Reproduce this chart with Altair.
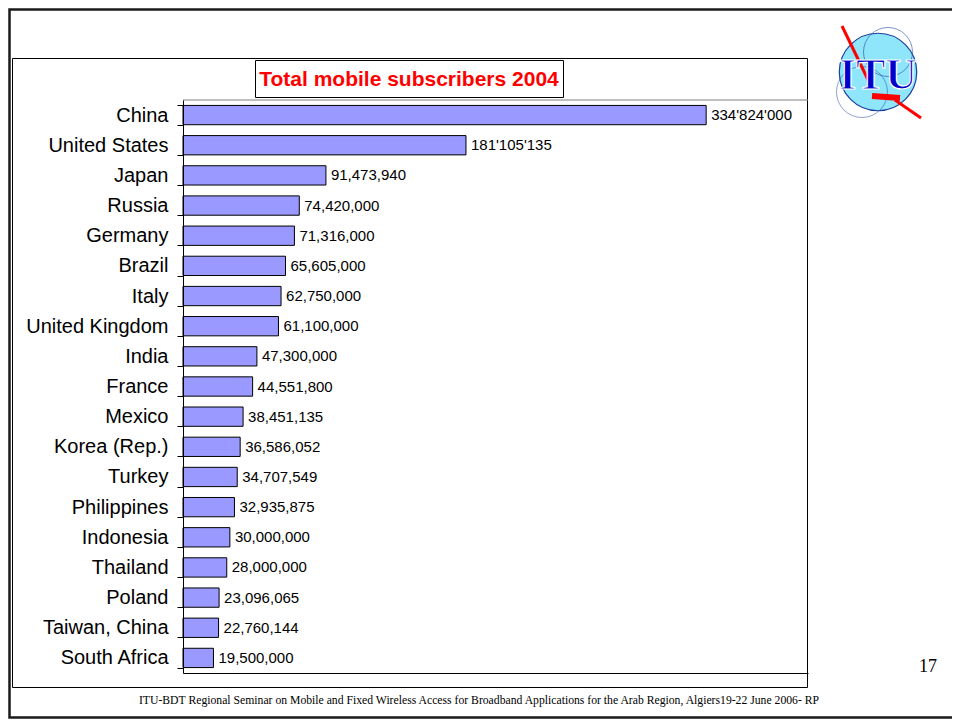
import altair as alt
import pandas as pd

countries = ["China", "United States", "Japan", "Russia", "Germany", "Brazil", "Italy",
             "United Kingdom", "India", "France", "Mexico", "Korea (Rep.)", "Turkey",
             "Philippines", "Indonesia", "Thailand", "Poland", "Taiwan, China", "South Africa"]
subscribers = [334824000, 181105135, 91473940, 74420000, 71316000, 65605000, 62750000,
               61100000, 47300000, 44551800, 38451135, 36586052, 34707549,
               32935875, 30000000, 28000000, 23096065, 22760144, 19500000]
value_labels = ["334'824'000", "181'105'135", "91,473,940", "74,420,000", "71,316,000",
                "65,605,000", "62,750,000", "61,100,000", "47,300,000", "44,551,800",
                "38,451,135", "36,586,052", "34,707,549", "32,935,875", "30,000,000",
                "28,000,000", "23,096,065", "22,760,144", "19,500,000"]
chart_title = "Total mobile subscribers 2004"
page_number = "17"
footer = ("ITU-BDT Regional Seminar on Mobile and Fixed Wireless Access for Broadband "
          "Applications  for the Arab Region, Algiers19-22 June 2006- RP")

df = pd.DataFrame({"country": countries, "subs": subscribers, "label": value_labels})

W, H = 625, 573
OX, OY = 183, 100  # plot origin on page
TOTAL_W, TOTAL_H = 944, 713

def px(x):
    return x - OX

def py(y):
    return y - OY

one = alt.Data(values=[{"k": 1}])

y_enc = alt.Y("country:N", sort=countries, title=None,
              scale=alt.Scale(paddingInner=0.36, paddingOuter=0.18),
              axis=alt.Axis(labelFont="Liberation Sans", labelFontSize=20, labelColor="black",
                            tickBand="extent", tickColor="black", tickSize=6,
                            domainColor="black", labelPadding=9, labelLimit=300, zindex=1))
x_enc = alt.X("subs:Q", title=None, scale=alt.Scale(domain=[0, 400000000], nice=False),
              axis=alt.Axis(labels=False, ticks=False, grid=False, domainColor="black",
                            domainWidth=1, zindex=1))

# decoration layers
slide_border = alt.Chart(one).mark_rect(fillOpacity=0, stroke="#1a1a1a", strokeWidth=2.5).encode(
    x=alt.value(px(9.5)), x2=alt.value(px(975)), y=alt.value(py(9.5)), y2=alt.value(py(717.5)))
chart_box = alt.Chart(one).mark_rect(fillOpacity=0, stroke="black", strokeWidth=1).encode(
    x=alt.value(px(12.5)), x2=alt.value(px(807.5)), y=alt.value(py(58.5)), y2=alt.value(py(687.5)))
top_line = alt.Chart(one).mark_rule(color="#808080", strokeWidth=1).encode(
    x=alt.value(0), x2=alt.value(W), y=alt.value(0))
title_box = alt.Chart(one).mark_rect(fill="white", stroke="black", strokeWidth=1).encode(
    x=alt.value(px(255.5)), x2=alt.value(px(563.5)), y=alt.value(py(60.5)), y2=alt.value(py(97.5)))
title_text = alt.Chart(one).mark_text(font="Liberation Sans", fontSize=21, fontWeight="bold",
                                      color="#ff0000", align="center", baseline="middle").encode(
    x=alt.value(px(409)), y=alt.value(py(80)), text=alt.value(chart_title))

# logo
logo_circle = alt.Chart(one).mark_point(shape="circle", size=6000, filled=True, fill="#8fe6fb",
                                        stroke="#1a3fa0", strokeWidth=1.2, opacity=1).encode(
    x=alt.value(px(878)), y=alt.value(py(72)))
logo_ring1 = alt.Chart(one).mark_point(shape="circle", size=2400, filled=False,
                                       stroke="#1a3fa0", strokeWidth=0.8, opacity=0.7).encode(
    x=alt.value(px(888)), y=alt.value(py(52)))
logo_ring2 = alt.Chart(one).mark_point(shape="circle", size=2600, filled=False,
                                       stroke="#1a3fa0", strokeWidth=0.8, opacity=0.6).encode(
    x=alt.value(px(862)), y=alt.value(py(92)))
logo_bolt1 = alt.Chart(one).mark_rule(color="#ff0000", strokeWidth=3).encode(
    x=alt.value(px(842)), x2=alt.value(px(872)), y=alt.value(py(26)), y2=alt.value(py(88)))
logo_bolt2 = alt.Chart(one).mark_rule(color="#ff0000", strokeWidth=6).encode(
    x=alt.value(px(872)), x2=alt.value(px(900)), y=alt.value(py(96)), y2=alt.value(py(98)))
logo_bolt3 = alt.Chart(one).mark_rule(color="#ff0000", strokeWidth=3).encode(
    x=alt.value(px(895)), x2=alt.value(px(921)), y=alt.value(py(100)), y2=alt.value(py(118)))
logo_text = alt.Chart(one).mark_text(font="Liberation Serif", fontSize=44, fontWeight="bold",
                                     color="#0000cc", stroke="white", strokeWidth=1.2,
                                     align="center", baseline="middle").encode(
    x=alt.value(px(878)), y=alt.value(py(76)), text=alt.value("ITU"))

page_no = alt.Chart(one).mark_text(font="Liberation Serif", fontSize=18, color="black",
                                   align="center", baseline="middle").encode(
    x=alt.value(px(928)), y=alt.value(py(667)), text=alt.value(page_number))
footer_text = alt.Chart(one).mark_text(font="Liberation Serif", fontSize=11.7, color="black",
                                       align="center", baseline="middle").encode(
    x=alt.value(px(479)), y=alt.value(py(700)), text=alt.value(footer))

bars = alt.Chart(df).mark_bar(color="#9999ff", stroke="black", strokeWidth=1).encode(
    y=y_enc, x=x_enc)
labels = alt.Chart(df).mark_text(font="Liberation Sans", fontSize=15, color="black",
                                 align="left", baseline="middle", dx=5).encode(
    y=alt.Y("country:N", sort=countries), x=alt.X("subs:Q"), text="label:N")

chart = alt.layer(
    slide_border, chart_box, top_line, title_box, title_text,
    logo_circle, logo_ring1, logo_ring2, logo_bolt1, logo_bolt2, logo_bolt3, logo_text,
    page_no, footer_text, bars, labels
).properties(
    width=W, height=H,
    padding={"left": OX - 8, "top": OY - 8, "right": TOTAL_W - (OX - 8) - W,
             "bottom": TOTAL_H - (OY - 8) - H},
    autosize=alt.AutoSizeParams(type="none"),
    background="white",
).configure_view(stroke=None)

chart.save("out.html", embed_options={"renderer": "svg", "actions": False})
